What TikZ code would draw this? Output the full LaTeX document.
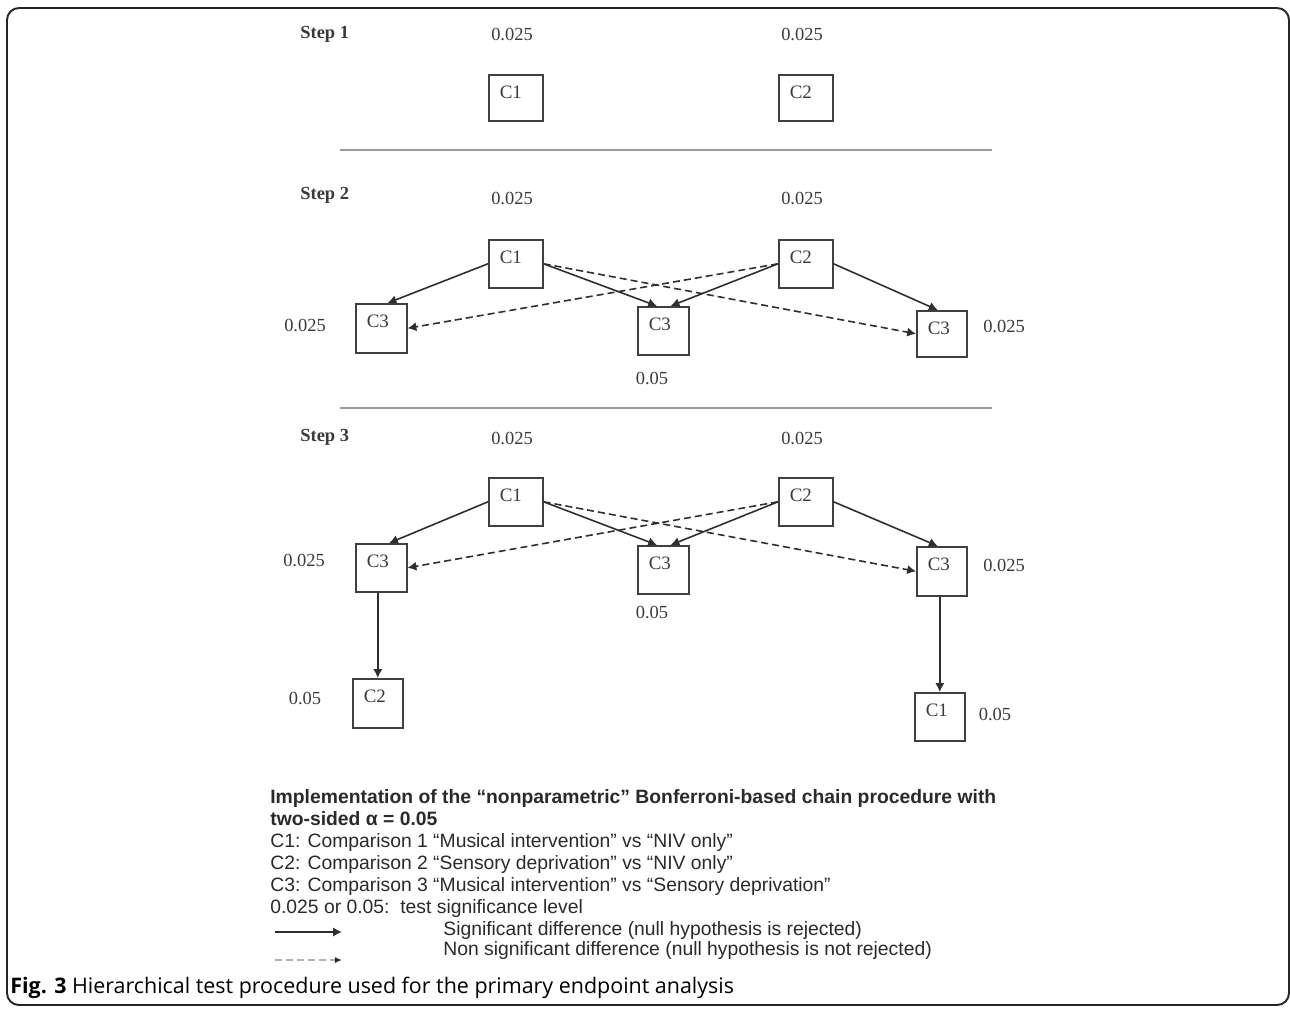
\documentclass[tikz,border=0pt]{standalone}
\usepackage{fontspec}
\setmainfont{Liberation Serif}
\newfontfamily\legendfont{Liberation Sans}
\newfontfamily\capfont{Open Sans}
\usetikzlibrary{arrows.meta,calc}
\newlength\pxu
\setlength\pxu{0.02cm}
\definecolor{txt}{HTML}{3A3A3A}
\definecolor{boxc}{HTML}{404040}
\definecolor{arrc}{HTML}{2E2E2E}
\definecolor{sepc}{HTML}{9A9A9A}
\definecolor{legc}{HTML}{2A2A2A}
\tikzset{
  cbox/.style n args={2}{draw=boxc, line width=0.9pt, rectangle, anchor=north west,
    inner xsep=11\pxu, inner ysep=0pt, align=left, text width=#1\pxu,
    text height=24\pxu, text depth=#2\pxu, text=txt, font=\fontsize{10.8}{12}\selectfont},
  num/.style={text=txt, font=\fontsize{10.5}{12}\selectfont, inner sep=0pt},
  steplab/.style={text=txt, font=\bfseries\fontsize{10.5}{12}\selectfont, inner sep=0pt, anchor=west},
  sarr/.style={draw=arrc, line width=0.9pt, -{Latex[length=5pt,width=5.2pt]}},
  darr/.style={sarr, dash pattern=on 4pt off 2.3pt},
  sepline/.style={draw=sepc, line width=1.4pt},
  leg/.style={anchor=base west, inner sep=0pt, text=legc, font=\legendfont\fontsize{11}{12.5}\selectfont},
}
\begin{document}
\begin{tikzpicture}[x=0.02cm, y=-0.02cm]
\useasboundingbox (0,0) rectangle (1290,1008);
\fill[white] (0,0) rectangle (1290,1008);
% frame
\draw[line width=1.1pt, draw=black!85, rounded corners=12\pxu] (7,8) rectangle (1289,1005);

% ---------- Step 1 ----------
\node[steplab] (st1) at (300,34) {Step 1};
\node[num] (n1a) at (512,34) {0.025};
\node[num] (n1b) at (802,34) {0.025};
\node[cbox={32}{22}] (s1c1) at (488,74) {C1};
\node[cbox={32}{22}] (s1c2) at (778,74) {C2};

\coordinate (sepa1) at (340,150);
\coordinate (sepa2) at (992,150);
\draw[sepline] (sepa1) -- (sepa2);

% ---------- Step 2 ----------
\node[steplab] (st2) at (300,195) {Step 2};
\node[num] (n2a) at (512,198) {0.025};
\node[num] (n2b) at (802,198) {0.025};
\node[cbox={32}{24}] (s2c1) at (488,239) {C1};
\node[cbox={32}{24}] (s2c2) at (778,239) {C2};
\node[cbox={29}{25}] (s2l) at (355,303) {C3};
\node[cbox={29}{24}] (s2m) at (637,306) {C3};
\node[cbox={28}{22}] (s2r) at (916,310) {C3};
\node[num] (n2l) at (305,325) {0.025};
\node[num] (n2m) at (652,378) {0.05};
\node[num] (n2r) at (1004,326) {0.025};

\draw[sarr] (s2c1.west) -- ($(s2l.north west)!0.62!(s2l.north east)$);
\draw[sarr] (s2c1.east) -- ($(s2m.north west)!0.38!(s2m.north east)$);
\draw[sarr] (s2c2.west) -- ($(s2m.north west)!0.64!(s2m.north east)$);
\draw[sarr] (s2c2.east) -- ($(s2r.north west)!0.42!(s2r.north east)$);
\draw[darr] (s2c2.west) -- (s2l.east);
\draw[darr] (s2c1.east) -- (s2r.west);

\coordinate (sepb1) at (340,408);
\coordinate (sepb2) at (992,408);
\draw[sepline] (sepb1) -- (sepb2);

% ---------- Step 3 ----------
\node[steplab] (st3) at (300,437) {Step 3};
\node[num] (n3a) at (512,438) {0.025};
\node[num] (n3b) at (802,438) {0.025};
\node[cbox={32}{24}] (s3c1) at (488,477) {C1};
\node[cbox={32}{24}] (s3c2) at (778,477) {C2};
\node[cbox={29}{24}] (s3l) at (355,543) {C3};
\node[cbox={29}{24}] (s3m) at (637,545) {C3};
\node[cbox={28}{25}] (s3r) at (916,546) {C3};
\node[num] (n3l) at (304,560) {0.025};
\node[num] (n3m) at (652,612) {0.05};
\node[num] (n3r) at (1004,565) {0.025};
\node[cbox={28}{25}] (s3lb) at (352,678) {C2};
\node[cbox={28}{24}] (s3rb) at (914,692) {C1};
\node[num] (n3lb) at (305,698) {0.05};
\node[num] (n3rb) at (995,714) {0.05};

\draw[sarr] (s3c1.west) -- ($(s3l.north west)!0.65!(s3l.north east)$);
\draw[sarr] (s3c1.east) -- ($(s3m.north west)!0.38!(s3m.north east)$);
\draw[sarr] (s3c2.west) -- ($(s3m.north west)!0.64!(s3m.north east)$);
\draw[sarr] (s3c2.east) -- ($(s3r.north west)!0.42!(s3r.north east)$);
\draw[darr] (s3c2.west) -- (s3l.east);
\draw[darr] (s3c1.east) -- (s3r.west);
\draw[sarr] (s3l.south -| s3lb.north) -- (s3lb.north);
\draw[sarr] (s3r.south -| s3rb.north) -- (s3rb.north);

% ---------- Legend ----------
\node[leg, font=\legendfont\bfseries\fontsize{11}{12.5}\selectfont] (l1) at (270,803) {Implementation of the “nonparametric” Bonferroni-based chain procedure with};
\node[leg, font=\legendfont\bfseries\fontsize{11}{12.5}\selectfont] (l2) at (270,825) {two-sided α = 0.05};
\node[leg] (l3) at (270,847) {C1: Comparison 1 “Musical intervention” vs “NIV only”};
\node[leg] (l4) at (270,869) {C2: Comparison 2 “Sensory deprivation” vs “NIV only”};
\node[leg] (l5) at (270,891) {C3: Comparison 3 “Musical intervention” vs “Sensory deprivation”};
\node[leg] (l6) at (270,913) {0.025 or 0.05:\ \ test significance level};
\node[leg] (l7) at (443,935) {Significant difference (null hypothesis is rejected)};
\node[leg] (l8) at (443,955) {Non significant difference (null hypothesis is not rejected)};
\coordinate (la1) at (275,932);
\coordinate (la2) at (342,932);
\draw[sarr] (la1) -- (la2);
\coordinate (lb1) at (275,960);
\coordinate (lb2) at (342,960);
\draw[darr, draw=black!30, -{Latex[length=4pt,width=3.5pt,color=arrc]}] (lb1) -- (lb2);

% ---------- Caption ----------
\node[anchor=base west, inner sep=0pt, font=\capfont\fontsize{12.2}{14}\selectfont] (cap) at (10,993)
  {\textbf{Fig. 3} Hierarchical test procedure used for the primary endpoint analysis};
\end{tikzpicture}
\end{document}
